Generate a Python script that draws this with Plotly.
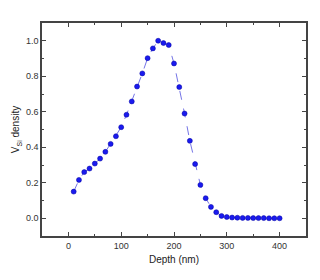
import plotly.graph_objects as go

depth = [10, 20, 30, 40, 50, 60, 70, 80, 90, 100,
         110, 120, 130, 140, 150, 160, 170, 180, 190, 200,
         210, 220, 230, 240, 250, 260, 270, 280, 290, 300,
         310, 320, 330, 340, 350, 360, 370, 380, 390, 400]
density = [0.15, 0.216, 0.26, 0.28, 0.308, 0.336, 0.374, 0.419, 0.462, 0.513,
           0.583, 0.658, 0.742, 0.816, 0.902, 0.957, 1.0, 0.987, 0.976, 0.872,
           0.739, 0.59, 0.436, 0.305, 0.188, 0.113, 0.064, 0.034, 0.013, 0.007,
           0.004, 0.003, 0.002, 0.002, 0.001, 0.001, 0.001, 0.0, 0.0, 0.0]

fig = go.Figure()
fig.add_trace(go.Scatter(
    x=depth, y=density, mode="lines+markers",
    line=dict(color="rgba(70,70,220,0.75)", width=1, dash="dash"),
    marker=dict(color="#1a1aee", size=5,
                line=dict(color="#0000a0", width=0.5)),
    showlegend=False,
))

axis_common = dict(
    showline=True, linecolor="#444444", linewidth=1.5, mirror="allticks",
    ticks="inside", ticklen=4, tickwidth=1, tickcolor="#444444",
    showgrid=False, zeroline=False, automargin=False,
    tickfont=dict(family="Liberation Sans, Arial", size=9, color="#333333"),
)

fig.update_xaxes(
    range=[-50, 450], tickvals=[0, 100, 200, 300, 400],
    minor=dict(ticks="inside", ticklen=2, dtick=50, tick0=0, tickcolor="#444444"),
    title=dict(text="Depth (nm)", font=dict(family="Liberation Sans, Arial", size=10, color="#222222"), standoff=6),
    **axis_common,
)
fig.update_yaxes(
    range=[-0.1, 1.1], tickvals=[0, 0.2, 0.4, 0.6, 0.8, 1.0],
    ticktext=["0.0", "0.2", "0.4", "0.6", "0.8", "1.0"],
    minor=dict(ticks="inside", ticklen=2, dtick=0.1, tick0=0, tickcolor="#444444"),
    title=dict(text="V<sub>Si</sub> density", font=dict(family="Liberation Sans, Arial", size=10, color="#222222"), standoff=4),
    **axis_common,
)

# page body has an 8px default margin; compensate so the plot box matches
fig.update_layout(
    width=312, height=272,
    margin=dict(l=34, r=14, t=15, b=44),
    paper_bgcolor="white", plot_bgcolor="white",
)

fig.write_html("out.html")
